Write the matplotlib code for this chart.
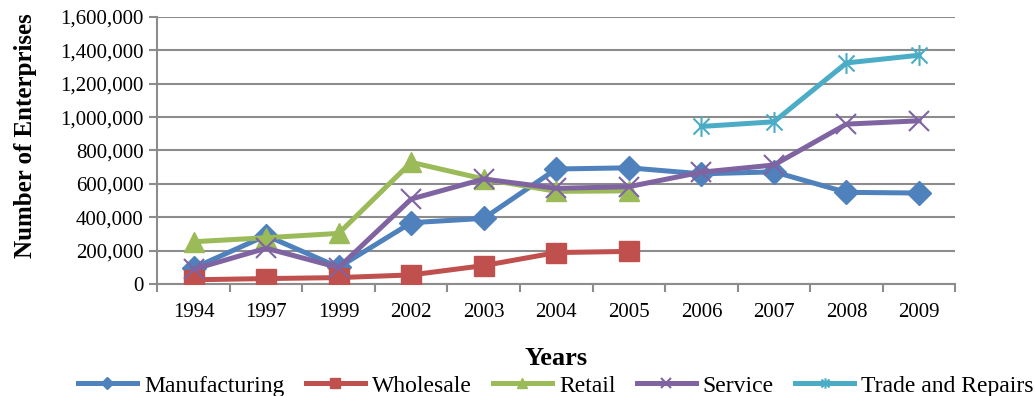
import numpy as np
import matplotlib.pyplot as plt
from matplotlib.path import Path
from matplotlib.ticker import FuncFormatter

plt.rcParams['font.family'] = ['Liberation Serif', 'DejaVu Serif']

years = ['1994', '1997', '1999', '2002', '2003', '2004', '2005', '2006', '2007', '2008', '2009']
manufacturing = [95000, 290000, 100000, 367000, 393000, 689000, 696000, 660000, 672000, 549000, 545000]
wholesale = [25000, 32000, 38000, 54000, 110000, 188000, 195000, None, None, None, None]
retail = [253000, 277000, 303000, 729000, 629000, 555000, 558000, None, None, None, None]
service = [88000, 214000, 98000, 509000, 629000, 573000, 583000, 670000, 713000, 958000, 978000]
trade_repairs = [None, None, None, None, None, None, None, 944000, 972000, 1325000, 1371000]

def arr(vals):
    return np.array([np.nan if v is None else v for v in vals], dtype=float)

# asterisk marker: x plus vertical bar
star = Path([(-1, -1), (1, 1), (-1, 1), (1, -1), (0, -1.3), (0, 1.3)],
            [Path.MOVETO, Path.LINETO, Path.MOVETO, Path.LINETO, Path.MOVETO, Path.LINETO])

series = [
    ('Manufacturing', manufacturing, '#4F81BD', dict(marker='D', markersize=12)),
    ('Wholesale', wholesale, '#C0504D', dict(marker='s', markersize=14)),
    ('Retail', retail, '#9BBB59', dict(marker='^', markersize=15)),
    ('Service', service, '#8064A2', dict(marker='x', markersize=15, markeredgewidth=1.5)),
    ('Trade and Repairs', trade_repairs, '#4BACC6',
     dict(marker=star, markersize=15, markeredgewidth=1.5, markerfacecolor='none')),
]

fig = plt.figure(figsize=(10.35, 3.96), dpi=100)
ax = fig.add_axes([0.152, 0.283, 0.771, 0.674])

x = np.arange(len(years))
for name, vals, color, mk in series:
    ax.plot(x, arr(vals), color=color, lw=3.6, label=name, solid_joinstyle='round',
            markeredgecolor=color, zorder=3, **mk)

ax.set_xlim(-0.5, len(years) - 0.5)
ax.set_ylim(0, 1600000)
ax.set_yticks(np.arange(0, 1600001, 200000))
ax.yaxis.set_major_formatter(FuncFormatter(lambda v, p: f'{int(v):,}'))
ax.grid(axis='y', color='#8C8C8C', lw=1.5)
ax.set_axisbelow(True)

ax.set_xticks(x)
ax.set_xticklabels(years)
ax.set_xticks(np.arange(-0.5, len(years)), minor=True)
ax.tick_params(axis='x', which='major', length=0, pad=14, labelsize=15)
ax.tick_params(axis='x', which='minor', length=6, width=1.5, color='#8C8C8C')
ax.tick_params(axis='y', length=6, width=1.5, color='#8C8C8C', labelsize=15, pad=4)

for s in ['top', 'right']:
    ax.spines[s].set_visible(False)
for s in ['left', 'bottom']:
    ax.spines[s].set_color('#8C8C8C')
    ax.spines[s].set_linewidth(1.5)

ax.set_xlabel('Years', fontsize=19, fontweight='bold', labelpad=18)
ax.set_ylabel('Number of Enterprises', fontsize=18, fontweight='bold')
ax.yaxis.set_label_coords(-0.151, 0.554)

fig.legend(loc='lower center', bbox_to_anchor=(0.537, -0.055), ncol=5, frameon=False,
           fontsize=17, handlelength=2.5, columnspacing=0.9, handletextpad=0.3,
           markerscale=0.5)

fig.savefig('out.png', dpi=100)
